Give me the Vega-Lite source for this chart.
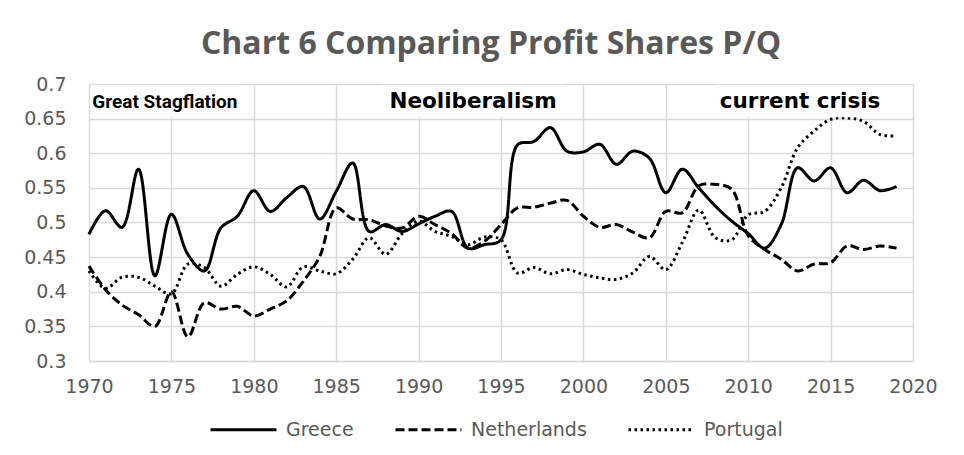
{
  "$schema": "https://vega.github.io/schema/vega-lite/v6.json",
  "width": 824,
  "height": 277,
  "autosize": {"type": "none"},
  "padding": {"left": 89, "top": 84, "right": 51, "bottom": 94},
  "background": "white",
  "title": {
    "text": "Chart 6 Comparing Profit Shares P/Q",
    "font": "Open Sans",
    "fontSize": 32,
    "fontWeight": "bold",
    "color": "#595959",
    "anchor": "middle",
    "frame": "group",
    "baseline": "alphabetic",
    "offset": -11,
    "dx": -10
  },
  "datasets": {
    "shares": [
      {"year": 1970, "country": "Greece", "value": 0.483},
      {"year": 1971, "country": "Greece", "value": 0.517},
      {"year": 1972, "country": "Greece", "value": 0.493},
      {"year": 1973, "country": "Greece", "value": 0.577},
      {"year": 1974, "country": "Greece", "value": 0.423},
      {"year": 1975, "country": "Greece", "value": 0.512},
      {"year": 1976, "country": "Greece", "value": 0.454},
      {"year": 1977, "country": "Greece", "value": 0.43},
      {"year": 1978, "country": "Greece", "value": 0.492},
      {"year": 1979, "country": "Greece", "value": 0.509},
      {"year": 1980, "country": "Greece", "value": 0.546},
      {"year": 1981, "country": "Greece", "value": 0.516},
      {"year": 1982, "country": "Greece", "value": 0.536},
      {"year": 1983, "country": "Greece", "value": 0.552},
      {"year": 1984, "country": "Greece", "value": 0.505},
      {"year": 1985, "country": "Greece", "value": 0.545},
      {"year": 1986, "country": "Greece", "value": 0.586},
      {"year": 1987, "country": "Greece", "value": 0.487},
      {"year": 1988, "country": "Greece", "value": 0.497},
      {"year": 1989, "country": "Greece", "value": 0.487},
      {"year": 1990, "country": "Greece", "value": 0.498},
      {"year": 1991, "country": "Greece", "value": 0.509},
      {"year": 1992, "country": "Greece", "value": 0.516},
      {"year": 1993, "country": "Greece", "value": 0.463},
      {"year": 1994, "country": "Greece", "value": 0.468},
      {"year": 1995, "country": "Greece", "value": 0.475},
      {"year": 1996, "country": "Greece", "value": 0.612},
      {"year": 1997, "country": "Greece", "value": 0.617},
      {"year": 1998, "country": "Greece", "value": 0.637},
      {"year": 1999, "country": "Greece", "value": 0.603},
      {"year": 2000, "country": "Greece", "value": 0.602},
      {"year": 2001, "country": "Greece", "value": 0.613},
      {"year": 2002, "country": "Greece", "value": 0.584},
      {"year": 2003, "country": "Greece", "value": 0.603},
      {"year": 2004, "country": "Greece", "value": 0.593},
      {"year": 2005, "country": "Greece", "value": 0.543},
      {"year": 2006, "country": "Greece", "value": 0.577},
      {"year": 2007, "country": "Greece", "value": 0.55},
      {"year": 2008, "country": "Greece", "value": 0.524},
      {"year": 2009, "country": "Greece", "value": 0.502},
      {"year": 2010, "country": "Greece", "value": 0.484},
      {"year": 2011, "country": "Greece", "value": 0.463},
      {"year": 2012, "country": "Greece", "value": 0.497},
      {"year": 2013, "country": "Greece", "value": 0.579},
      {"year": 2014, "country": "Greece", "value": 0.56},
      {"year": 2015, "country": "Greece", "value": 0.579},
      {"year": 2016, "country": "Greece", "value": 0.543},
      {"year": 2017, "country": "Greece", "value": 0.561},
      {"year": 2018, "country": "Greece", "value": 0.546},
      {"year": 2019, "country": "Greece", "value": 0.552},
      {"year": 1970, "country": "Netherlands", "value": 0.437},
      {"year": 1971, "country": "Netherlands", "value": 0.403},
      {"year": 1972, "country": "Netherlands", "value": 0.381},
      {"year": 1973, "country": "Netherlands", "value": 0.367},
      {"year": 1974, "country": "Netherlands", "value": 0.35},
      {"year": 1975, "country": "Netherlands", "value": 0.4},
      {"year": 1976, "country": "Netherlands", "value": 0.335},
      {"year": 1977, "country": "Netherlands", "value": 0.384},
      {"year": 1978, "country": "Netherlands", "value": 0.375},
      {"year": 1979, "country": "Netherlands", "value": 0.379},
      {"year": 1980, "country": "Netherlands", "value": 0.365},
      {"year": 1981, "country": "Netherlands", "value": 0.375},
      {"year": 1982, "country": "Netherlands", "value": 0.387},
      {"year": 1983, "country": "Netherlands", "value": 0.415},
      {"year": 1984, "country": "Netherlands", "value": 0.451},
      {"year": 1985, "country": "Netherlands", "value": 0.521},
      {"year": 1986, "country": "Netherlands", "value": 0.505},
      {"year": 1987, "country": "Netherlands", "value": 0.504},
      {"year": 1988, "country": "Netherlands", "value": 0.495},
      {"year": 1989, "country": "Netherlands", "value": 0.492},
      {"year": 1990, "country": "Netherlands", "value": 0.509},
      {"year": 1991, "country": "Netherlands", "value": 0.497},
      {"year": 1992, "country": "Netherlands", "value": 0.484},
      {"year": 1993, "country": "Netherlands", "value": 0.463},
      {"year": 1994, "country": "Netherlands", "value": 0.473},
      {"year": 1995, "country": "Netherlands", "value": 0.497},
      {"year": 1996, "country": "Netherlands", "value": 0.521},
      {"year": 1997, "country": "Netherlands", "value": 0.522},
      {"year": 1998, "country": "Netherlands", "value": 0.528},
      {"year": 1999, "country": "Netherlands", "value": 0.532},
      {"year": 2000, "country": "Netherlands", "value": 0.509},
      {"year": 2001, "country": "Netherlands", "value": 0.493},
      {"year": 2002, "country": "Netherlands", "value": 0.497},
      {"year": 2003, "country": "Netherlands", "value": 0.486},
      {"year": 2004, "country": "Netherlands", "value": 0.478},
      {"year": 2005, "country": "Netherlands", "value": 0.516},
      {"year": 2006, "country": "Netherlands", "value": 0.514},
      {"year": 2007, "country": "Netherlands", "value": 0.553},
      {"year": 2008, "country": "Netherlands", "value": 0.555},
      {"year": 2009, "country": "Netherlands", "value": 0.548},
      {"year": 2010, "country": "Netherlands", "value": 0.481},
      {"year": 2011, "country": "Netherlands", "value": 0.461},
      {"year": 2012, "country": "Netherlands", "value": 0.447},
      {"year": 2013, "country": "Netherlands", "value": 0.43},
      {"year": 2014, "country": "Netherlands", "value": 0.44},
      {"year": 2015, "country": "Netherlands", "value": 0.442},
      {"year": 2016, "country": "Netherlands", "value": 0.466},
      {"year": 2017, "country": "Netherlands", "value": 0.461},
      {"year": 2018, "country": "Netherlands", "value": 0.466},
      {"year": 2019, "country": "Netherlands", "value": 0.463},
      {"year": 1970, "country": "Portugal", "value": 0.43},
      {"year": 1971, "country": "Portugal", "value": 0.405},
      {"year": 1972, "country": "Portugal", "value": 0.421},
      {"year": 1973, "country": "Portugal", "value": 0.421},
      {"year": 1974, "country": "Portugal", "value": 0.408},
      {"year": 1975, "country": "Portugal", "value": 0.397},
      {"year": 1976, "country": "Portugal", "value": 0.44},
      {"year": 1977, "country": "Portugal", "value": 0.435},
      {"year": 1978, "country": "Portugal", "value": 0.408},
      {"year": 1979, "country": "Portugal", "value": 0.425},
      {"year": 1980, "country": "Portugal", "value": 0.436},
      {"year": 1981, "country": "Portugal", "value": 0.425},
      {"year": 1982, "country": "Portugal", "value": 0.407},
      {"year": 1983, "country": "Portugal", "value": 0.436},
      {"year": 1984, "country": "Portugal", "value": 0.43},
      {"year": 1985, "country": "Portugal", "value": 0.426},
      {"year": 1986, "country": "Portugal", "value": 0.447},
      {"year": 1987, "country": "Portugal", "value": 0.478},
      {"year": 1988, "country": "Portugal", "value": 0.454},
      {"year": 1989, "country": "Portugal", "value": 0.484},
      {"year": 1990, "country": "Portugal", "value": 0.502},
      {"year": 1991, "country": "Portugal", "value": 0.487},
      {"year": 1992, "country": "Portugal", "value": 0.48},
      {"year": 1993, "country": "Portugal", "value": 0.468},
      {"year": 1994, "country": "Portugal", "value": 0.479},
      {"year": 1995, "country": "Portugal", "value": 0.475},
      {"year": 1996, "country": "Portugal", "value": 0.427},
      {"year": 1997, "country": "Portugal", "value": 0.435},
      {"year": 1998, "country": "Portugal", "value": 0.426},
      {"year": 1999, "country": "Portugal", "value": 0.432},
      {"year": 2000, "country": "Portugal", "value": 0.425},
      {"year": 2001, "country": "Portugal", "value": 0.42},
      {"year": 2002, "country": "Portugal", "value": 0.418},
      {"year": 2003, "country": "Portugal", "value": 0.427},
      {"year": 2004, "country": "Portugal", "value": 0.451},
      {"year": 2005, "country": "Portugal", "value": 0.432},
      {"year": 2006, "country": "Portugal", "value": 0.471},
      {"year": 2007, "country": "Portugal", "value": 0.518},
      {"year": 2008, "country": "Portugal", "value": 0.478},
      {"year": 2009, "country": "Portugal", "value": 0.475},
      {"year": 2010, "country": "Portugal", "value": 0.511},
      {"year": 2011, "country": "Portugal", "value": 0.516},
      {"year": 2012, "country": "Portugal", "value": 0.55},
      {"year": 2013, "country": "Portugal", "value": 0.608},
      {"year": 2014, "country": "Portugal", "value": 0.632},
      {"year": 2015, "country": "Portugal", "value": 0.649},
      {"year": 2016, "country": "Portugal", "value": 0.651},
      {"year": 2017, "country": "Portugal", "value": 0.646},
      {"year": 2018, "country": "Portugal", "value": 0.627},
      {"year": 2019, "country": "Portugal", "value": 0.625}
    ],
    "notes": [
      {"label": "Great Stagflation", "start": 1970.15, "end": 1979.2, "textYear": 1970.2, "anchor": "left", "lo": 0.652, "hi": 0.699, "mid": 0.6745},
      {"label": "Neoliberalism", "start": 1987.8, "end": 1998.9, "textYear": 1993.3, "anchor": "center", "lo": 0.652, "hi": 0.699, "mid": 0.6745},
      {"label": "current crisis", "start": 2008.0, "end": 2019.85, "textYear": 2013.15, "anchor": "center", "lo": 0.652, "hi": 0.699, "mid": 0.6745}
    ]
  },
  "layer": [
    {
      "data": {"name": "shares"},
      "mark": {"type": "line", "interpolate": "catmull-rom", "color": "black", "strokeWidth": 3},
      "encoding": {
        "x": {
          "field": "year",
          "type": "quantitative",
          "scale": {"domain": [1970, 2020], "nice": false, "zero": false},
          "axis": {"title": null, "values": [1970, 1975, 1980, 1985, 1990, 1995, 2000, 2005, 2010, 2015, 2020], "format": "d"}
        },
        "y": {
          "field": "value",
          "type": "quantitative",
          "scale": {"domain": [0.3, 0.7], "nice": false, "zero": false},
          "axis": {"title": null, "values": [0.3, 0.35, 0.4, 0.45, 0.5, 0.55, 0.6, 0.65, 0.7], "format": "~g"}
        },
        "strokeDash": {
          "field": "country",
          "type": "nominal",
          "scale": {"domain": ["Greece", "Netherlands", "Portugal"], "range": [[1, 0], [9, 4], [2.5, 3.5]]},
          "legend": {
            "title": null,
            "orient": "none",
            "direction": "horizontal",
            "legendX": 120,
            "legendY": 311,
            "symbolType": "stroke",
            "symbolSize": 4356,
            "symbolStrokeWidth": 3,
            "symbolStrokeColor": "black",
            "labelFont": "DejaVu Sans",
            "labelFontSize": 19,
            "labelColor": "#595959",
            "labelOffset": 8,
            "columnPadding": 35
          }
        }
      }
    },
    {
      "data": {"name": "notes"},
      "mark": {"type": "rect", "fill": "white", "strokeWidth": 0},
      "encoding": {
        "x": {"field": "start", "type": "quantitative", "axis": {"title": null, "values": [1970, 1975, 1980, 1985, 1990, 1995, 2000, 2005, 2010, 2015, 2020], "format": "d"}},
        "x2": {"field": "end"},
        "y": {"field": "lo", "type": "quantitative", "axis": {"title": null, "values": [0.3, 0.35, 0.4, 0.45, 0.5, 0.55, 0.6, 0.65, 0.7], "format": "~g"}},
        "y2": {"field": "hi"}
      }
    },
    {
      "data": {"name": "notes"},
      "transform": [{"filter": "datum.anchor == 'left'"}],
      "mark": {"type": "text", "align": "left", "baseline": "middle", "font": "Roboto", "fontWeight": "bold", "fontSize": 19, "color": "black"},
      "encoding": {
        "x": {"field": "textYear", "type": "quantitative", "axis": {"title": null, "values": [1970, 1975, 1980, 1985, 1990, 1995, 2000, 2005, 2010, 2015, 2020], "format": "d"}},
        "y": {"field": "mid", "type": "quantitative", "axis": {"title": null, "values": [0.3, 0.35, 0.4, 0.45, 0.5, 0.55, 0.6, 0.65, 0.7], "format": "~g"}},
        "text": {"field": "label"}
      }
    },
    {
      "data": {"name": "notes"},
      "transform": [{"filter": "datum.anchor == 'center'"}],
      "mark": {"type": "text", "align": "center", "baseline": "middle", "font": "DejaVu Sans", "fontWeight": "bold", "fontSize": 21.5, "color": "black"},
      "encoding": {
        "x": {"field": "textYear", "type": "quantitative", "axis": {"title": null, "values": [1970, 1975, 1980, 1985, 1990, 1995, 2000, 2005, 2010, 2015, 2020], "format": "d"}},
        "y": {"field": "mid", "type": "quantitative", "axis": {"title": null, "values": [0.3, 0.35, 0.4, 0.45, 0.5, 0.55, 0.6, 0.65, 0.7], "format": "~g"}},
        "text": {"field": "label"}
      }
    }
  ],
  "config": {
    "view": {"stroke": null},
    "axis": {
      "labelFont": "DejaVu Sans",
      "labelFontSize": 19,
      "labelColor": "#595959",
      "gridColor": "#d9d9d9",
      "gridWidth": 1.5,
      "gridOpacity": 1,
      "ticks": false
    },
    "axisX": {
      "grid": true,
      "domain": true,
      "domainColor": "#d9d9d9",
      "domainWidth": 1.5,
      "labelPadding": 16,
      "labelFlush": false
    },
    "axisY": {
      "grid": true,
      "domain": false,
      "labelPadding": 23
    }
  }
}
